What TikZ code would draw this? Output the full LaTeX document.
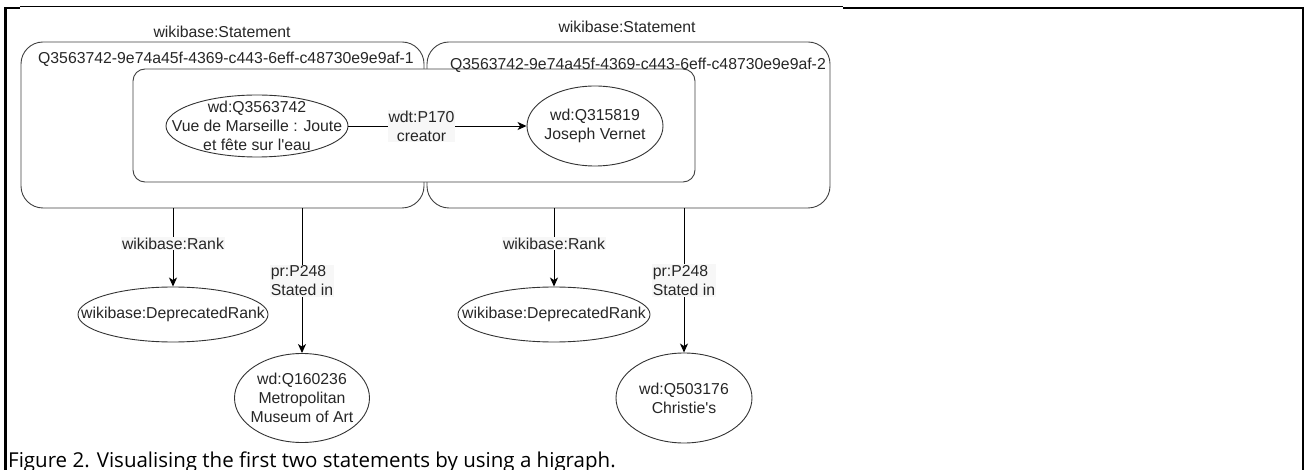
\documentclass[tikz,border=0pt]{standalone}
\usepackage{fontspec}
\newfontfamily\diagfont{Liberation Sans}
\newfontfamily\capfont{Open Sans}
\usetikzlibrary{positioning, arrows.meta, shapes.geometric}

\begin{document}
\begin{tikzpicture}[x=1pt, y=-1pt,
  every node/.style={font=\diagfont\fontsize{15.8}{19}\selectfont, text=black!85},
  stmtbox/.style={draw=black!75, line width=0.9pt, rounded corners=22pt, minimum width=403pt, minimum height=166pt, inner sep=0pt},
  innerbox/.style={draw=black!75, fill=white, line width=0.9pt, rounded corners=12pt, minimum width=562pt, minimum height=113pt, inner sep=0pt},
  entity/.style={ellipse, draw=black!80, line width=0.9pt, align=center, inner sep=-40pt},
  elabel/.style={fill=black!3, align=center, inner sep=1pt},
  link/.style={-{Stealth[length=9pt, width=8pt, inset=2.5pt]}, line width=0.9pt}]
\useasboundingbox (0,0) rectangle (1307,470);

% Frame of the screenshot
\draw[line width=2.5pt] (5.5,470) -- (5.5,8) -- (20,8);
\draw[line width=1pt] (20,7) -- (843,7);
\draw[line width=2.5pt] (843,8) -- (1303,8) -- (1303,470);

% Statement boxes
\node[stmtbox] (stmt1) at (222.5,125) {};
\node[stmtbox] (stmt2) at (628.5,125) {};
\node[innerbox] (triple) at (414,125.5) {};
\node (stmt1type) at (222,32) {wikibase:Statement};
\node (stmt2type) at (627,27) {wikibase:Statement};
\node (stmt1id) at (226,59) {Q3563742-9e74a45f-4369-c443-6eff-c48730e9e9af-1};
\node (stmt2id) at (638,65) {Q3563742-9e74a45f-4369-c443-6eff-c48730e9e9af-2};

% Main triple
\node[entity, minimum width=182pt, minimum height=62pt] (painting) at (257,126) {wd:Q3563742\\Vue de Marseille : Joute\\et fête sur l'eau};
\node[entity, minimum width=136pt, minimum height=80pt] (vernet) at (595,126) {wd:Q315819\\Joseph Vernet};
\draw[link] (painting) -- (vernet) node[elabel, pos=0.41] (p170) {wdt:P170\\creator};

% Ranks and references
\node[entity, minimum width=190pt, minimum height=55pt] (rank1) at (173,314.5) {wikibase:DeprecatedRank};
\node[entity, minimum width=135pt, minimum height=89pt] (met) at (302,398) {wd:Q160236\\Metropolitan\\Museum of Art};
\node[entity, minimum width=192pt, minimum height=55pt] (rank2) at (554,314.5) {wikibase:DeprecatedRank};
\node[entity, minimum width=136pt, minimum height=90pt] (christies) at (684,398) {wd:Q503176\\Christie's};

\draw[link] (stmt1.south -| rank1) -- (rank1) node[elabel, pos=0.45] (rank1lbl) {wikibase:Rank};
\draw[link] (stmt1.south -| met) -- (met) node[elabel, align=left, midway] (p248a) {pr:P248\\Stated in};
\draw[link] (stmt2.south -| rank2) -- (rank2) node[elabel, pos=0.45] (rank2lbl) {wikibase:Rank};
\draw[link] (stmt2.south -| christies) -- (christies) node[elabel, align=left, midway] (p248b) {pr:P248\\Stated in};

% Caption
\node[font=\capfont\fontsize{20.5}{24}\selectfont, text=black, anchor=base west, inner sep=0pt] (caption) at (8,467) {Figure 2. Visualising the first two statements by using a higraph.};
\end{tikzpicture}
\end{document}
